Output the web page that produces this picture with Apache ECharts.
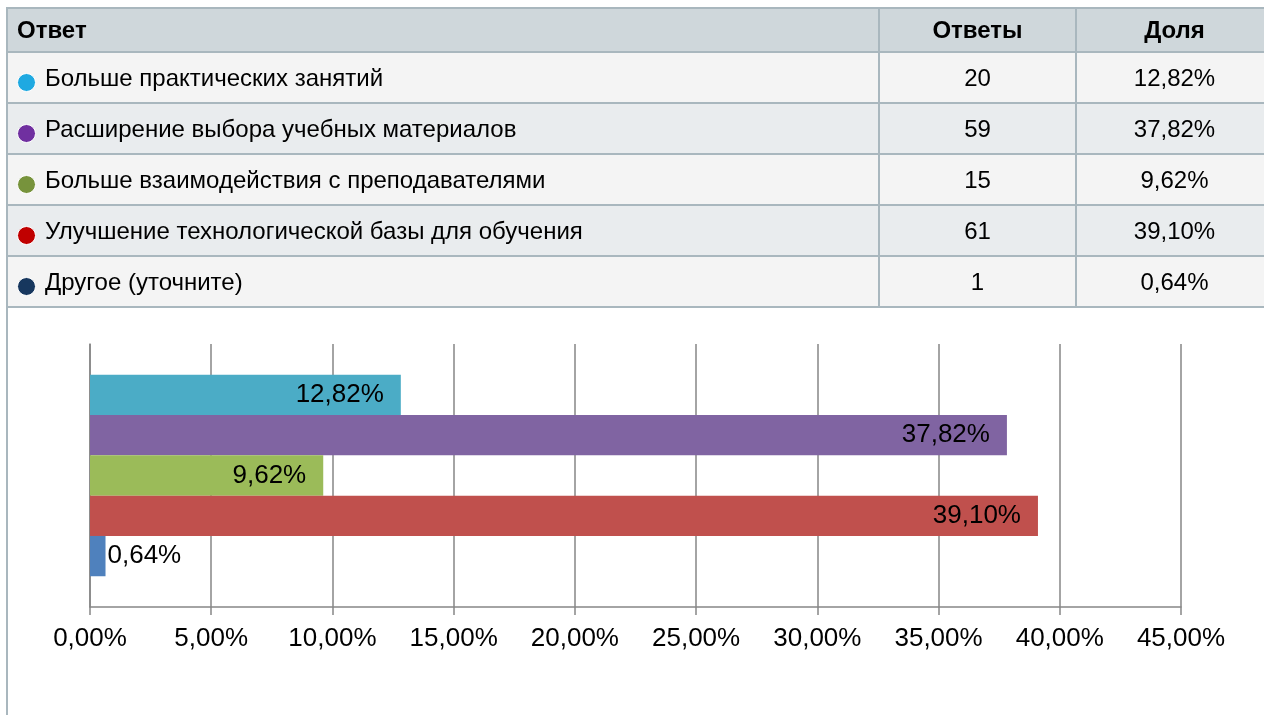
<!DOCTYPE html>
<html lang="ru">
<head>
    <meta charset="UTF-8">
    <title>Ответы</title>
    <style>
        body { margin: 0; width: 1264px; height: 715px; overflow: hidden; background: #fff;
               font-family: "Liberation Sans", Arial, sans-serif; color: #000; }
        #frame { position: absolute; left: 6px; top: 8px; width: 1400px; height: 720px;
                 border-left: 2px solid #a9b7be; }
        #tbl { position: absolute; left: 6px; top: 7px; border-collapse: collapse; table-layout: fixed;
               width: 1266px; font-size: 24px; z-index: 2; }
        #tbl td, #tbl th { border: 2px solid #a9b7be; padding: 0; }
        #tbl th { background: #cfd7db; height: 42px; font-weight: bold; }
        #tbl tr.r td { height: 49px; }
        #tbl tr.odd td { background: #f4f4f4; }
        #tbl tr.even td { background: #e9ecee; }
        #tbl .c1 { text-align: left; padding-left: 9px; }
        #tbl td.c1 { padding-left: 8px; }
        #tbl .num { text-align: center; }
        .dot { display: inline-block; width: 17px; height: 17px; border-radius: 50%;
               border: 1px solid #fff; vertical-align: -6px; margin-right: 9px; margin-left: 1px; }
        #echarts { position: absolute; left: 0; top: 0; width: 1264px; height: 715px; z-index: 1; }
    </style>
</head>
<body>
    <div id="frame"></div>
    <table id="tbl">
        <colgroup><col style="width:872px"><col style="width:197px"><col style="width:197px"></colgroup>
        <thead><tr><th class="c1">Ответ</th><th class="num">Ответы</th><th class="num">Доля</th></tr></thead>
        <tbody id="rows"></tbody>
    </table>
    <div id="echarts"></div>
    <script src="https://cdn.jsdelivr.net/npm/echarts@6/dist/echarts.min.js"></script>
    <script>
        const answers = [
            'Больше практических занятий',
            'Расширение выбора учебных материалов',
            'Больше взаимодействия с преподавателями',
            'Улучшение технологической базы для обучения',
            'Другое (уточните)'
        ];
        const counts = [20, 59, 15, 61, 1];
        const shares = [12.82, 37.82, 9.62, 39.10, 0.64];
        const dotColors = ['#1fa9e1', '#7030a0', '#77933c', '#c00000', '#17375e'];
        const barColors = ['#4bacc6', '#8064a2', '#9bbb59', '#c0504d', '#4f81bd'];
        const axisMin = 0, axisMax = 45, axisStep = 5;

        const pct = v => v.toFixed(2).replace('.', ',') + '%';

        // table
        const tbody = document.getElementById('rows');
        answers.forEach((name, i) => {
            const tr = document.createElement('tr');
            tr.className = 'r ' + (i % 2 === 0 ? 'odd' : 'even');
            tr.innerHTML = '<td class="c1"><span class="dot" style="background:' + dotColors[i] + '"></span>' + name + '</td>' +
                '<td class="num">' + counts[i] + '</td>' +
                '<td class="num">' + pct(shares[i]) + '</td>';
            tbody.appendChild(tr);
        });

        // chart
        const series = answers.map((name, i) => ({
            name: name,
            type: 'bar',
            data: [shares[i]],
            barWidth: 40.3,
            barGap: '0%',
            itemStyle: { color: barColors[i] },
            label: {
                show: true,
                position: shares[i] < 5 ? 'right' : 'insideRight',
                distance: shares[i] < 5 ? 2 : 17,
                formatter: p => pct(p.value),
                color: '#000',
                fontSize: 26,
                fontFamily: 'Liberation Sans, Arial, sans-serif'
            }
        }));

        const option = {
            animation: false,
            grid: { left: 90, right: 83, top: 344, bottom: 108 },
            xAxis: {
                type: 'value',
                min: axisMin,
                max: axisMax,
                interval: axisStep,
                axisLine: { show: true, lineStyle: { color: '#868686', width: 1.5 } },
                axisTick: { show: true, length: 8, lineStyle: { color: '#868686', width: 1.5 } },
                splitLine: { show: true, lineStyle: { color: '#868686', width: 1.5 } },
                axisLabel: {
                    formatter: v => pct(v),
                    color: '#000',
                    fontSize: 26,
                    margin: 19,
                    fontFamily: 'Liberation Sans, Arial, sans-serif'
                }
            },
            yAxis: {
                type: 'category',
                data: [''],
                inverse: true,
                axisLine: { show: true, lineStyle: { color: '#868686', width: 1.5 } },
                axisTick: { show: false },
                axisLabel: { show: false }
            },
            series: series
        };

        var chartDom = document.getElementById('echarts');
        var myChart = echarts.init(chartDom);
        myChart.setOption(option);
    </script>
</body>
</html>
